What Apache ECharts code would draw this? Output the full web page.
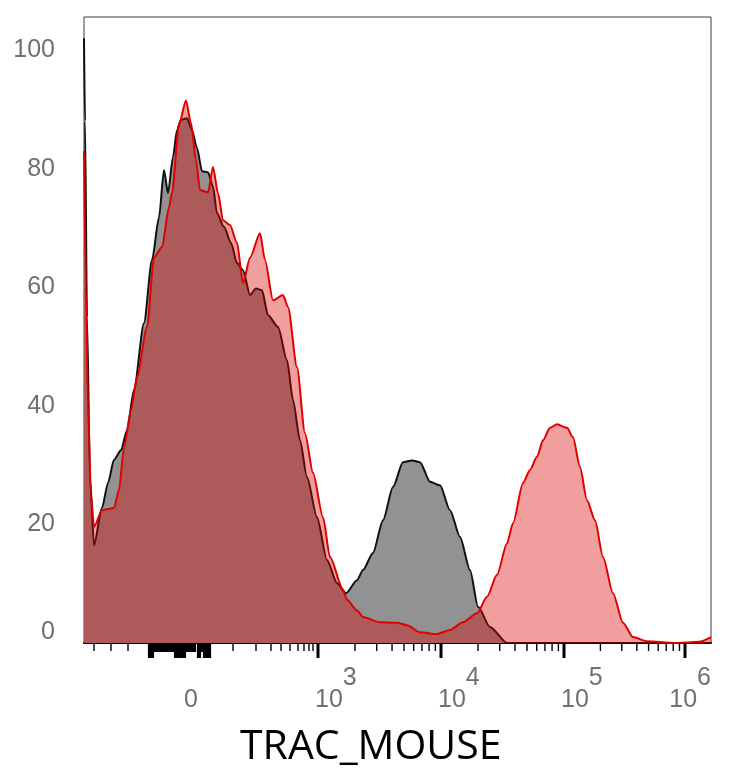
<!DOCTYPE html>
<html>
<head>
<meta charset="utf-8">
<script src="https://cdn.jsdelivr.net/npm/echarts@6/dist/echarts.min.js"></script>
<style>
html,body{margin:0;padding:0;background:#fff;}
#main{width:734px;height:768px;}
</style>
</head>
<body>
<div id="main"></div>
<script>
// x = display channel of the biexponential scale (0..627 across the plot)
// y = % of mode
var controlX = [0, 1, 3, 6, 10, 18, 24, 30, 37, 43, 50, 60, 68, 75, 80, 84, 89, 93, 97, 103,
  108, 113, 118, 124, 129, 133, 140, 147, 153, 159, 166, 172, 178, 184, 194, 203, 209, 216, 223, 233,
  243, 253, 262, 273, 279, 289, 299, 309, 319, 328, 336, 346, 356, 366, 376, 386, 394, 406, 423, 627];
var controlY = [102, 88, 55, 28, 16.5, 22.8, 27, 30.9, 32.5, 35.9, 42.7, 54, 64.6, 71.8, 79.8, 75.9, 82, 86.5, 88.3, 88.5,
  86.5, 83.5, 79.6, 79.4, 77, 72.5, 70.2, 67.5, 64.1, 62.9, 58.7, 59.8, 59.5, 55.3, 53.3, 47.7, 41, 34.2, 28, 21.2,
  14, 10.1, 8.4, 10.6, 12.3, 15.2, 20.7, 26.3, 30.5, 30.8, 30.5, 27.2, 26.6, 22.4, 17.9, 12.3, 6.1, 2.7, 0, 0];

var mouseX = [0, 2, 4, 7, 10, 18, 24, 30, 35, 40, 47, 53, 63, 70, 78, 85, 88, 95, 102, 107,
  112, 116, 124, 129, 134, 139, 146, 153, 159, 166, 176, 181, 189, 199, 204, 213, 221, 229, 239, 246,
  259, 263, 273, 279, 296, 313, 323, 336, 353, 366, 379, 393, 403, 413, 423, 429, 439, 446, 453, 459,
  466, 473, 483, 489, 496, 503, 511, 519, 529, 539, 549, 563, 590, 615, 627];
var mouseY = [83, 60, 40, 25, 19.6, 22.4, 22.6, 22.8, 25.8, 33, 39.3, 44.9, 53.3, 65, 66.8, 73.5, 76, 87.5, 91.5, 87.7,
  81.5, 76.4, 76, 80.3, 75.9, 71.3, 70.5, 67.5, 60.7, 65, 69.1, 64.6, 57.8, 58.7, 56.7, 46.5, 35.4, 28.7, 21.2, 14.5,
  9, 7.3, 5.5, 4.4, 3.5, 3.4, 3, 1.8, 1.5, 2.2, 3.5, 5, 7.8, 11.5, 16.8, 20.2, 27, 29.2, 31.4, 34.2,
  36.3, 36.9, 36.3, 34.7, 29.7, 24.1, 20.7, 14.5, 8.4, 3.4, 1, 0.3, 0, 0.2, 1];

// axis ticks / labels (channels)
var decadeTicks = [234, 357, 480, 601];           // 10^3 .. 10^6
var lowTicks = [10, 27, 44, 149, 172, 187, 197, 206, 214, 220, 225, 229];
var denseTall = [65, 67, 69, 91, 93, 95, 97, 99, 101, 114, 116, 120, 122, 124, 126];
var denseShort = [71, 73, 75, 77, 79, 81, 83, 85, 87, 89, 103, 105, 107, 109, 111, 118];
var labelX = [107, 234, 357, 480, 601];
var labelBase = ['0', '10', '10', '10', '10'];
var labelExp = ['', '3', '4', '5', '6'];

// log minor ticks inside each decade above 10^3
var logTicks = [];
for (var d = 0; d < decadeTicks.length; d++) {
  var span = d < decadeTicks.length - 1 ? decadeTicks[d + 1] - decadeTicks[d] : 123;
  for (var k = 2; k <= 9; k++) {
    var c = decadeTicks[d] + Math.log10(k) * span;
    if (c <= 627) logTicks.push(c);
  }
}

function pairs(xs, ys) {
  return xs.map(function (x, i) { return [x, ys[i]]; });
}

var textGray = '#707070';
var labelFont = '25px "Liberation Sans", Arial, sans-serif';
var measureCtx = document.createElement('canvas').getContext('2d');
measureCtx.font = labelFont;

function tickSeries(list, len, width) {
  return {
    type: 'custom',
    clip: false,
    silent: true,
    z: 10,
    data: list.map(function (c) { return [c, 0]; }),
    encode: { x: 0, y: 1 },
    renderItem: function (params, api) {
      var p = api.coord([api.value(0), 0]);
      return {
        type: 'line',
        shape: { x1: p[0], y1: p[1], x2: p[0], y2: p[1] + len },
        style: { stroke: '#000', lineWidth: width }
      };
    }
  };
}

var chart = echarts.init(document.getElementById('main'));
chart.setOption({
  animation: false,
  backgroundColor: '#fff',
  grid: {
    left: 84, top: 17, width: 627, height: 626,
    show: true, borderColor: '#3a3a3a', borderWidth: 1, backgroundColor: 'transparent'
  },
  xAxis: {
    type: 'value', min: 0, max: 627,
    axisLine: { show: true, onZero: false, lineStyle: { color: '#000', width: 2 } },
    axisTick: { show: false },
    axisLabel: { show: false },
    splitLine: { show: false }
  },
  yAxis: {
    type: 'value', min: 0, max: 105.6, interval: 20,
    axisLine: { show: false },
    axisTick: { show: false },
    splitLine: { show: false },
    axisLabel: {
      margin: 29, fontSize: 25, color: textGray,
      fontFamily: '"Liberation Sans", Arial, sans-serif',
      showMaxLabel: false,
      formatter: function (v) { return v === 0 ? '{z|0}' : String(v); },
      rich: { z: { fontSize: 25, color: textGray, fontFamily: '"Liberation Sans", Arial, sans-serif', padding: [0, 0, 22, 0] } }
    }
  },
  graphic: [{
    type: 'text', left: 240, top: 727,
    style: { text: 'TRAC_MOUSE', font: '41px "Open Sans"', fill: '#000' }
  }],
  series: [
    {
      name: 'control', type: 'line', data: pairs(controlX, controlY),
      symbol: 'none', z: 2, smooth: 0.25, smoothMonotone: 'x',
      lineStyle: { color: '#111', width: 2 },
      areaStyle: { color: 'rgb(146,146,146)', opacity: 1 }
    },
    {
      name: 'TRAC_MOUSE', type: 'line', data: pairs(mouseX, mouseY),
      symbol: 'none', z: 3, smooth: 0.25, smoothMonotone: 'x',
      lineStyle: { color: '#e00000', width: 2 },
      areaStyle: { color: 'rgba(216,0,0,0.38)', opacity: 1 }
    },
    tickSeries(decadeTicks, 15, 3),
    tickSeries(lowTicks.concat(logTicks), 8, 1.4),
    tickSeries(denseTall, 15, 2.2),
    tickSeries(denseShort, 9, 2.2),
    {
      type: 'custom', clip: false, silent: true, z: 10,
      data: labelX.map(function (c, i) { return [c, 0, i]; }),
      encode: { x: 0, y: 1 },
      renderItem: function (params, api) {
        var i = api.value(2);
        var p = api.coord([api.value(0), 0]);
        var right = params.coordSys.x + params.coordSys.width;
        if (!labelExp[i]) {
          return {
            type: 'text', x: p[0], y: p[1] + 57,
            style: { text: labelBase[i], font: labelFont, fill: textGray, align: 'center', verticalAlign: 'middle' }
          };
        }
        var wb = measureCtx.measureText(labelBase[i]).width;
        var we = measureCtx.measureText(labelExp[i]).width;
        var x0 = p[0] - 3;
        if (x0 + wb + we > right) x0 = right - wb - we;
        return {
          type: 'group',
          children: [
            { type: 'text', x: x0, y: p[1] + 57,
              style: { text: labelBase[i], font: labelFont, fill: textGray, align: 'left', verticalAlign: 'middle' } },
            { type: 'text', x: x0 + wb, y: p[1] + 35,
              style: { text: labelExp[i], font: labelFont, fill: textGray, align: 'left', verticalAlign: 'middle' } }
          ]
        };
      }
    }
  ]
});
</script>
</body>
</html>
